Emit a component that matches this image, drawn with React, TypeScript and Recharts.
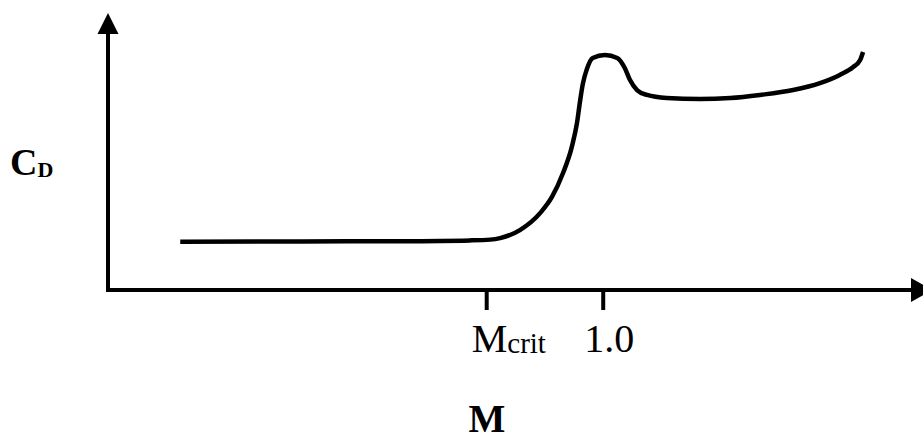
import React from 'react';
import { LineChart, Line, XAxis, YAxis } from 'recharts';

// Mach number along the curve
const machValues = [
  0.274, 0.48, 0.651, 0.771, 0.806, 0.823, 0.857, 0.892, 0.912, 0.931, 0.946, 0.955, 0.96,
  0.965, 0.972, 0.982, 1.003, 1.024, 1.037, 1.046, 1.058, 1.075, 1.109, 1.166, 1.218, 1.269,
  1.326, 1.372, 1.406, 1.429, 1.441, 1.446,
];
// Drag coefficient (arbitrary units)
const dragValues = [
  0.188, 0.189, 0.19, 0.193, 0.196, 0.202, 0.233, 0.3, 0.362, 0.455, 0.556, 0.65, 0.731,
  0.802, 0.86, 0.903, 0.914, 0.903, 0.864, 0.817, 0.778, 0.759, 0.747, 0.743, 0.747, 0.759,
  0.778, 0.805, 0.837, 0.868, 0.895, 0.926,
];
const xTicks = [0.8, 1.0];
const xTickLabels = ['M|crit', '1.0'];
const xDomain = [0.15, 1.53];
const yDomain = [0, 1];
const xAxisTitle = 'M';
const yAxisTitle = 'C|D';

const data = machValues.map((m, i) => ({ m, cd: dragValues[i] }));

const FONT = '"Liberation Serif", "Times New Roman", serif';

function MachTick(props: any) {
  const { x, y, payload } = props;
  const idx = xTicks.indexOf(payload.value);
  const label = xTickLabels[idx] ?? String(payload.value);
  const [main, sub] = label.split('|');
  if (sub) {
    return (
      <text x={x - 15} y={y + 40} fontFamily={FONT} fontSize={40} fill="#000" textAnchor="start">
        <tspan>{main}</tspan>
        <tspan fontSize={29} dy={1}>{sub}</tspan>
      </text>
    );
  }
  return (
    <text x={x - 19} y={y + 40} fontFamily={FONT} fontSize={40} fill="#000" textAnchor="start">
      {main}
    </text>
  );
}

export default function App() {
  const [yMain, ySub] = yAxisTitle.split('|');
  return (
    <div style={{ position: 'absolute', left: 0, top: 0, width: 923, height: 439, background: '#fff' }}>
      <svg width={0} height={0} style={{ position: 'absolute' }}>
        <defs>
          <marker id="arrowUp" markerUnits="userSpaceOnUse" markerWidth={22} markerHeight={22} refX={10.5} refY={20} orient="0" overflow="visible">
            <path d="M0,21 L10.5,0 L21,21 Z" fill="#000" />
          </marker>
          <marker id="arrowRight" markerUnits="userSpaceOnUse" markerWidth={24} markerHeight={24} refX={1} refY={12} orient="0" overflow="visible">
            <path d="M0,0 L21,12 L0,24 Z" fill="#000" />
          </marker>
        </defs>
      </svg>
      <LineChart width={923} height={439} data={data} margin={{ top: 33, right: 11, left: 0, bottom: 0 }}>
        <XAxis
          dataKey="m"
          type="number"
          domain={xDomain}
          ticks={xTicks}
          allowDataOverflow
          height={149}
          tickSize={20}
          tickLine={{ stroke: '#000', strokeWidth: 4 }}
          axisLine={{ stroke: '#000', strokeWidth: 4, strokeLinecap: 'square', markerEnd: 'url(#arrowRight)' }}
          tick={<MachTick />}
          label={{
            content: () => (
              <text x={487} y={432} fontFamily={FONT} fontSize={39} fontWeight="bold" fill="#000" textAnchor="middle">
                {xAxisTitle}
              </text>
            ),
          }}
        />
        <YAxis
          type="number"
          domain={yDomain}
          width={108}
          tick={false}
          tickLine={false}
          axisLine={{ stroke: '#000', strokeWidth: 4, strokeLinecap: 'square', markerStart: 'url(#arrowUp)' }}
          label={{
            content: () => (
              <text x={10} y={175} fontFamily={FONT} fontSize={38} fontWeight="bold" fill="#000" textAnchor="start">
                <tspan>{yMain}</tspan>
                <tspan fontSize={22} dy={2}>{ySub}</tspan>
              </text>
            ),
          }}
        />
        <Line
          type="monotone"
          dataKey="cd"
          stroke="#000"
          strokeWidth={4.5}
          dot={false}
          activeDot={false}
          isAnimationActive={false}
        />
      </LineChart>
    </div>
  );
}
